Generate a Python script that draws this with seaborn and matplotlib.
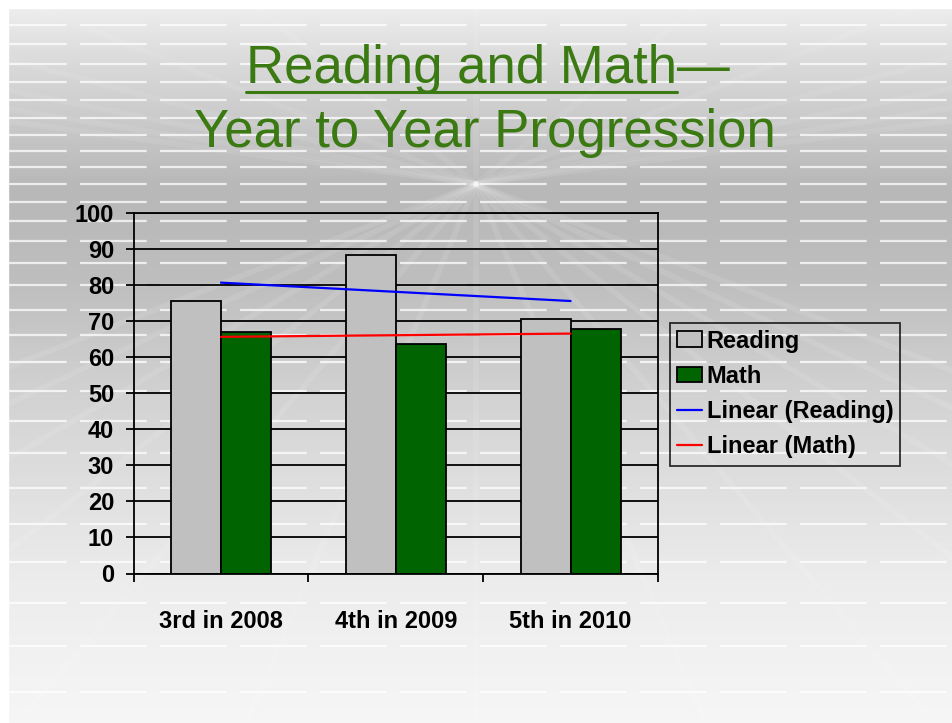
import numpy as np
import pandas as pd
import seaborn as sns
import matplotlib.pyplot as plt
from matplotlib.colors import LinearSegmentedColormap
from matplotlib.lines import Line2D

# values
grades = ['3rd in 2008', '4th in 2009', '5th in 2010']
reading = [75.6, 88.3, 70.5]
math = [66.9, 63.6, 67.8]
subjects = ['Reading', 'Math']
yticks = list(range(0, 101, 10))

df = pd.DataFrame({'grade': grades * 2,
                   'subject': ['Reading'] * 3 + ['Math'] * 3,
                   'score': reading + math})

sns.set_style('white')
plt.rcParams['font.family'] = ['Liberation Sans', 'DejaVu Sans']
plt.rcParams['text.color'] = 'black'
plt.rcParams['xtick.color'] = 'black'
plt.rcParams['ytick.color'] = 'black'

W, H = 952, 723
fig = plt.figure(figsize=(W / 100, H / 100), dpi=100)

# slide background: grey gradient with a perspective grid
bg = fig.add_axes([0, 0, 1, 1], zorder=-5)
stops = [(0.0, '#efefef'), (60 / H, '#dadada'), (185 / H, '#b8b8b8'),
         (280 / H, '#bebebe'), (420 / H, '#d6d6d6'), (580 / H, '#ececec'), (1.0, '#f6f6f6')]
cmap = LinearSegmentedColormap.from_list('slide', stops)
grad = np.linspace(0, 1, H).reshape(-1, 1)
bg.imshow(grad, cmap=cmap, aspect='auto', extent=[0, W, H, 0])
horizon = 184
y, step = horizon, 18.0
while y < H:
    bg.plot([0, W], [y, y], color='white', lw=1.6, alpha=0.75, dashes=(30, 6))
    y += step
    step *= 1.06
y, step = horizon - 17, 16.0
while y > 0:
    bg.plot([0, W], [y, y], color='white', lw=1.6, alpha=0.75, dashes=(30, 6))
    y -= step
    step *= 1.03
for xb in np.linspace(-900, W + 900, 13):
    bg.plot([W / 2, xb], [horizon, H], color='white', lw=4, alpha=0.1)
    bg.plot([W / 2, xb], [horizon, 0], color='white', lw=4, alpha=0.08)
bg.fill_between([0, W], 0, 8, color='white')
bg.fill_between([0, 8], 0, H, color='white')
bg.set_xlim(0, W)
bg.set_ylim(H, 0)
bg.axis('off')

# chart
ax = fig.add_axes([133.5 / W, 1 - 573.5 / H, 524.5 / W, 360.5 / H])
ax.set_facecolor('none')
sns.barplot(data=df, x='grade', y='score', hue='subject', hue_order=subjects,
            palette={'Reading': '#c0c0c0', 'Math': '#006400'}, width=0.572,
            edgecolor='black', linewidth=1.3, saturation=1, ax=ax, zorder=2)

xs = np.arange(len(grades))
for vals, col, name in [(reading, '#0000ff', 'Linear (Reading)'), (math, '#ff0000', 'Linear (Math)')]:
    k, b = np.polyfit(xs, vals, 1)
    ax.plot(xs, k * xs + b, color=col, lw=1.6, label=name, zorder=3)

ax.set_xlim(-0.5, 2.5)
ax.set_ylim(0, 100)
ax.set_yticks(yticks)
ax.set_xticks(xs)
ax.set_xticklabels(grades)
ax.set_xticks([-0.5, 0.5, 1.5, 2.5], minor=True)
ax.set_xlabel('')
ax.set_ylabel('')
ax.yaxis.grid(True, color='black', lw=1.3)
ax.set_axisbelow(True)
ax.tick_params(axis='y', direction='out', length=6, width=1.3, pad=8, labelsize=17,
               left=True, labelcolor='black')
ax.tick_params(axis='x', which='major', length=0, pad=26, labelsize=17, labelcolor='black')
ax.tick_params(axis='x', which='minor', direction='out', length=6, width=1.3, bottom=True)
for lab in ax.get_xticklabels() + ax.get_yticklabels():
    lab.set_fontweight('bold')
for sp in ax.spines.values():
    sp.set_color('black')
    sp.set_linewidth(1.3)

# legend
leg = ax.get_legend()
handles = list(leg.legend_handles)
labels = [t.get_text() for t in leg.get_texts()]
leg.remove()
h2, l2 = ax.get_legend_handles_labels()
handles += h2[-2:]
labels += l2[-2:]
lg = fig.legend(handles, labels, loc='upper left', bbox_to_anchor=(670 / W, 1 - 322.5 / H),
                frameon=True, fancybox=False, edgecolor='black', facecolor='none',
                prop={'weight': 'bold', 'size': 17}, handlelength=1.05, handleheight=0.65,
                handletextpad=0.2, labelspacing=0.52, borderpad=0.3, borderaxespad=0,
                labelcolor='black')
lg.get_frame().set_linewidth(1.3)

# title
green = '#3b7a12'
t1 = fig.text(677 / W, 1 - 83 / H, 'Reading and Math', ha='right', va='baseline',
              fontsize=38, color=green)
fig.text(677 / W, 1 - 83 / H, '\u2014', ha='left', va='baseline', fontsize=38, color=green)
fig.text(485 / W, 1 - 147 / H, 'Year to Year Progression', ha='center', va='baseline',
         fontsize=38, color=green)
fig.canvas.draw()
bb = t1.get_window_extent()
fig.add_artist(Line2D([bb.x0 / W, bb.x1 / W], [1 - 92 / H] * 2, color=green, lw=2.2))

fig.savefig('out.png', dpi=100)
